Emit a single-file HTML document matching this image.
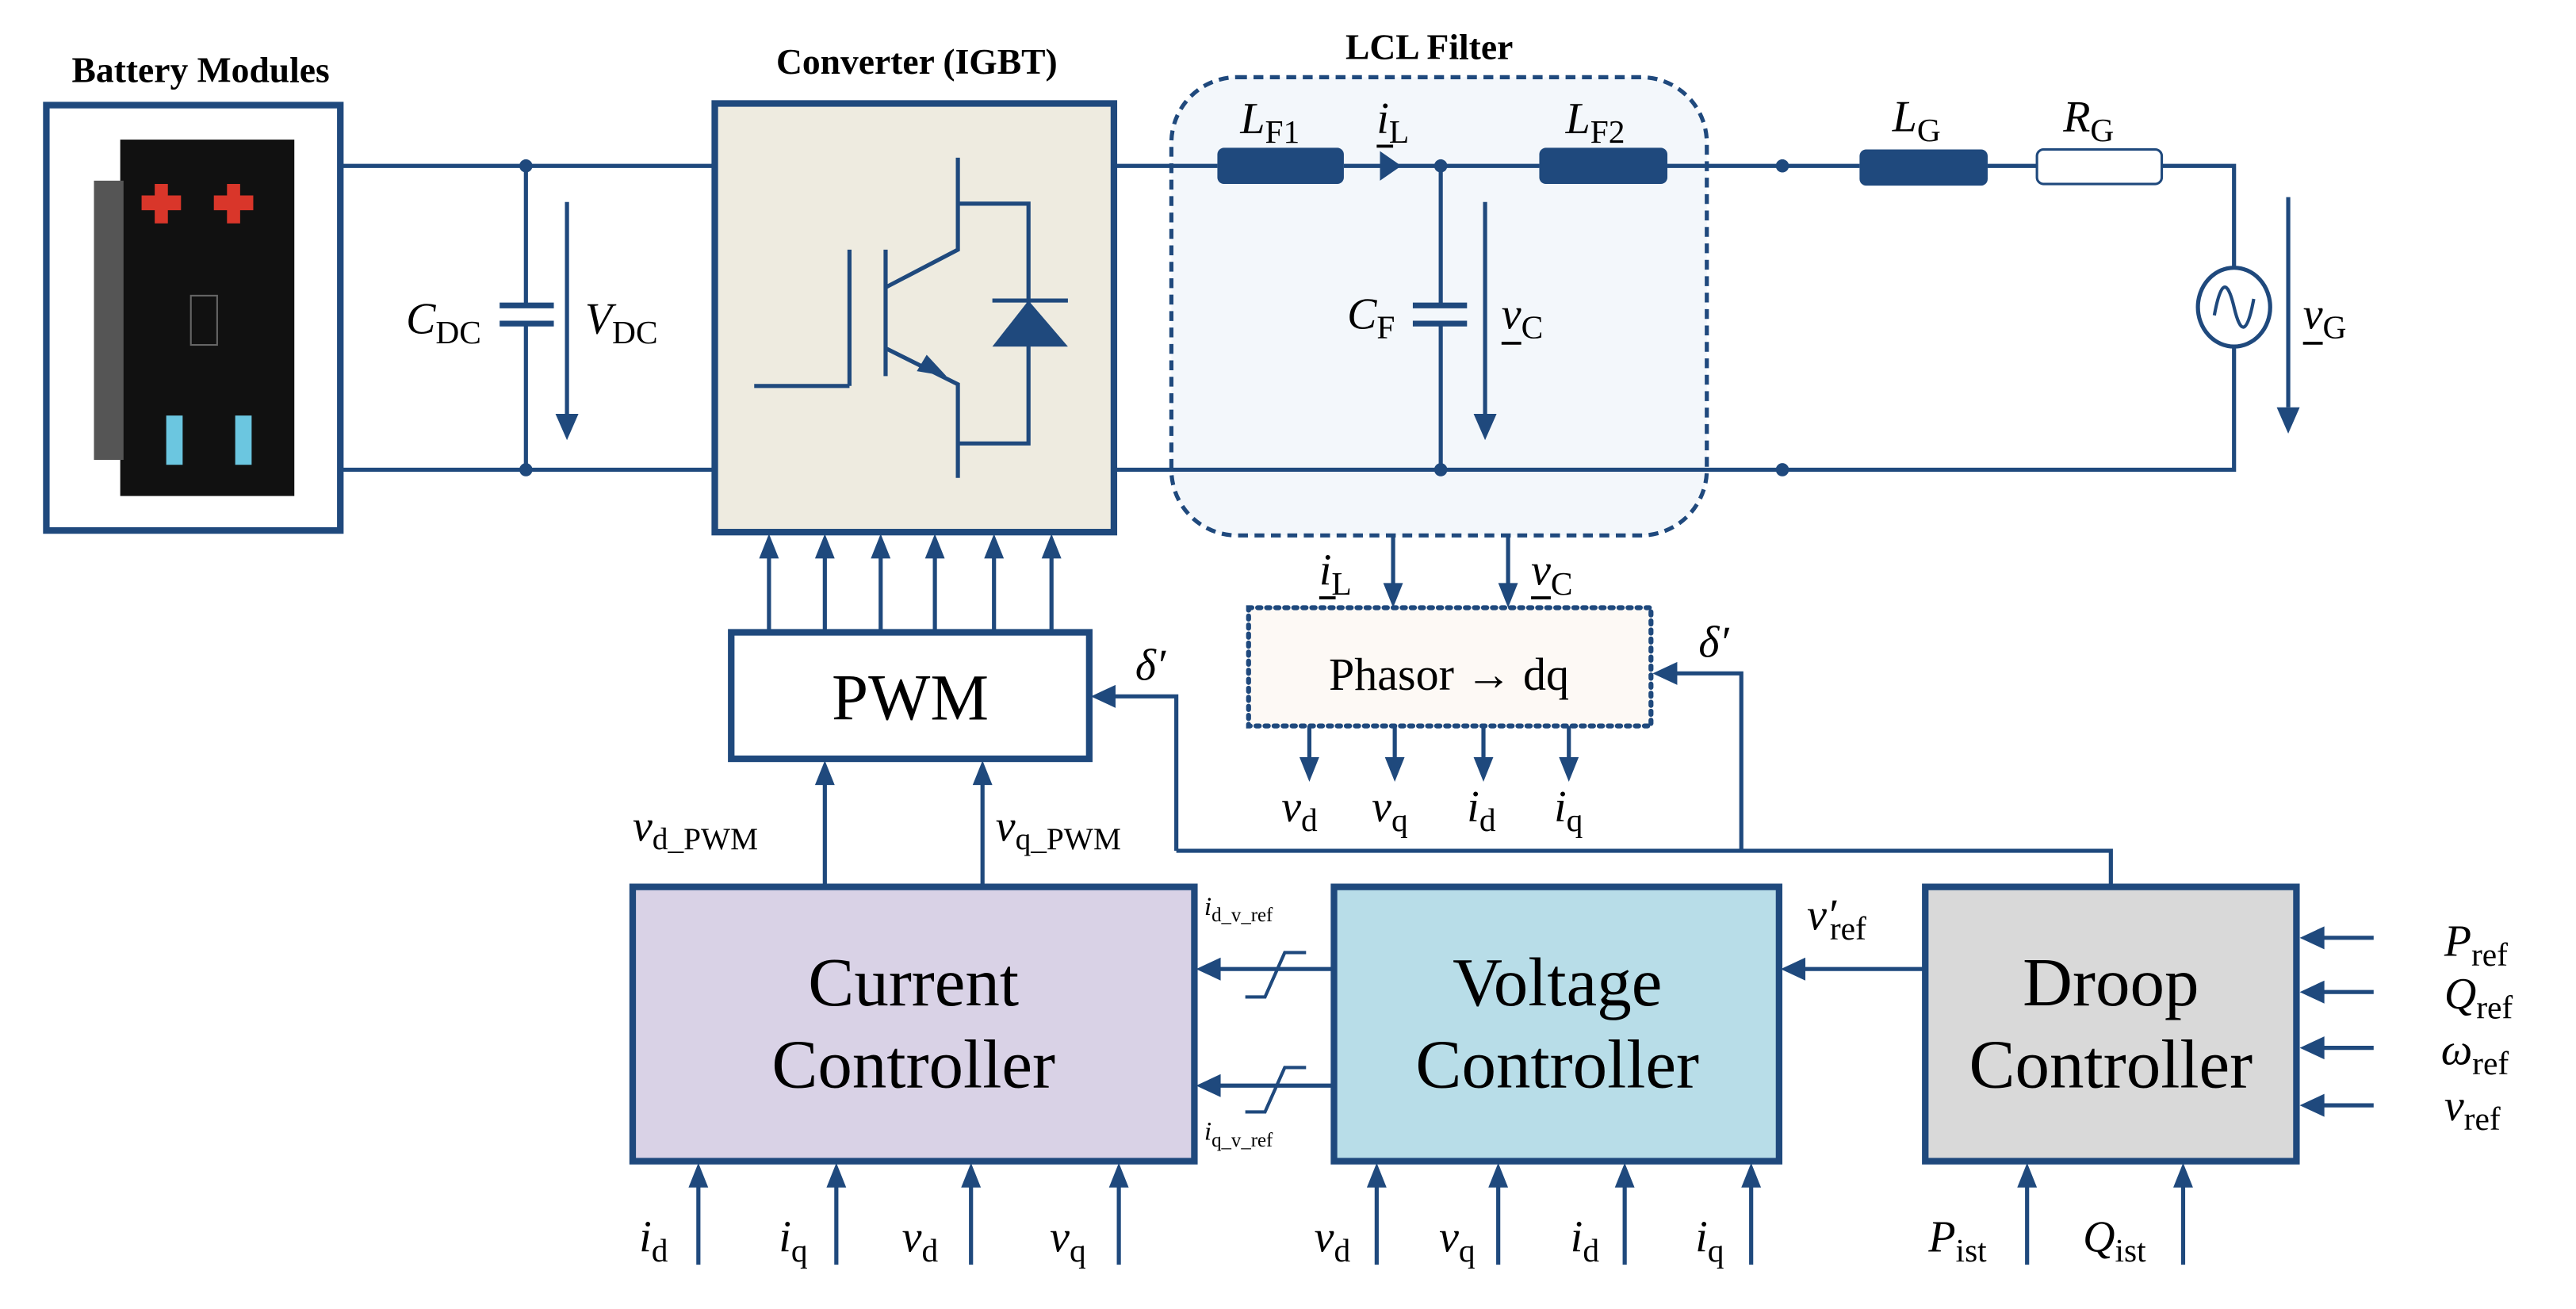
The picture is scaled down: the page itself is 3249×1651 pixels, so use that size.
<!DOCTYPE html>
<html><head><meta charset="utf-8"><style>
html,body{margin:0;padding:0;background:#fff;}
svg{display:block;}
text{font-family:"Liberation Serif",serif;fill:#000;}
.i{font-style:italic;}
</style></head><body>
<svg width="3249" height="1651" viewBox="0 0 1568 797" xmlns="http://www.w3.org/2000/svg">
<g stroke="#1f497d" fill="none" stroke-width="2.5">
<rect x="28" y="64" width="179" height="259" stroke-width="4" fill="#fff"/>
<path d="M207 101 H435 M207 286 H435"/>
<path d="M320 101 V186 M320 197 V286"/>
<path d="M304 186 H337 M304 197 H337" stroke-width="3.5"/>
<path d="M345 123 V253"/>
<rect x="435" y="63" width="243" height="261" stroke-width="4" fill="#eeebe0"/>
<path d="M583 96 V152 L539 175 M539 152 V229 M517 152 V235 M459 235 H517 M539 212 L583 234 V291 M583 124 H626 V270 H583 M604 183 H650"/>
</g>
<polygon points="604,211 650,211 626,183" fill="#1f497d"/>
<polygon points="564,216 576,229 558,226" fill="#1f497d"/>
<circle cx="320" cy="101" r="4" fill="#1f497d"/><circle cx="320" cy="286" r="4" fill="#1f497d"/>
<polygon points="338,252 352,252 345,268" fill="#1f497d"/>
<!-- battery image -->
<rect x="73" y="85" width="106" height="217" fill="#111"/>
<rect x="57" y="110" width="18" height="170" fill="#555"/>
<g fill="#d9362a"><rect x="94" y="112" width="8" height="24"/><rect x="86" y="119" width="24" height="9"/><rect x="138" y="112" width="8" height="24"/><rect x="130" y="119" width="24" height="9"/></g>
<g fill="#6bc6e0"><rect x="101" y="253" width="10" height="30"/><rect x="143" y="253" width="10" height="30"/></g>
<rect x="116" y="180" width="16" height="30" fill="none" stroke="#666" stroke-width="1"/>
<!-- LCL -->
<rect x="713" y="47" width="326" height="279" rx="40" fill="#f3f7fb" stroke="#1f497d" stroke-width="2.5" stroke-dasharray="6,4"/>
<g stroke="#1f497d" fill="none" stroke-width="2.5">
<path d="M678 101 H741 M818 101 H937 M1015 101 H1132 M1210 101 H1240 M1316 101 H1360 V164 M1360 210 V286 H678"/>
<path d="M877 101 V186 M877 197 V286"/>
<path d="M860 186 H893 M860 197 H893" stroke-width="3.5"/>
<path d="M904 123 V253 M1393 120 V248"/>
<ellipse cx="1360" cy="187" rx="22" ry="24"/>
<path d="M1348 192 C1352 170 1356 170 1360 187 C1364 204 1368 204 1372 182" stroke-width="2"/>
</g>
<rect x="741" y="90" width="77" height="22" rx="4" fill="#1f497d"/>
<rect x="937" y="90" width="78" height="22" rx="4" fill="#1f497d"/>
<rect x="1132" y="91" width="78" height="22" rx="4" fill="#1f497d"/>
<rect x="1240" y="91" width="76" height="21" rx="4" fill="#fff" stroke="#1f497d" stroke-width="1.5"/>
<polygon points="840,92 853,101 840,110" fill="#1f497d"/>
<g fill="#1f497d"><circle cx="877" cy="101" r="4"/><circle cx="877" cy="286" r="4"/><circle cx="1085" cy="101" r="4"/><circle cx="1085" cy="286" r="4"/></g>
<polygon points="897,252 911,252 904,268" fill="#1f497d"/>
<polygon points="1386,248 1400,248 1393,264" fill="#1f497d"/>
<!-- connectors -->
<g stroke="#1f497d" stroke-width="2.5" fill="none">
<path d="M468 385 V330 M502 385 V330 M536 385 V330 M569 385 V330 M605 385 V330 M640 385 V330"/>
<path d="M848 326 V362 M918 326 V362"/>
<path d="M797 442 V468 M849 442 V468 M903 442 V468 M955 442 V468"/>
<path d="M716 518 V424 H672"/>
<path d="M1060 518 V410 H1014"/>
<path d="M502 540 V470 M598 540 V470"/>
<path d="M812 590 H736 M812 661 H736 M1172 590 H1092"/>
<path d="M1445 571 H1408 M1445 604 H1408 M1445 638 H1408 M1445 673 H1408"/>
<path d="M425 770 V716 M509 770 V716 M591 770 V716 M681 770 V716 M838 770 V716 M912 770 V716 M989 770 V716 M1066 770 V716 M1234 770 V716 M1329 770 V716"/>
<path d="M716 518 H1285 V540"/>
</g>
<g fill="#1f497d">
<!-- up arrows to converter -->
<polygon points="462,340 474,340 468,325"/><polygon points="496,340 508,340 502,325"/><polygon points="530,340 542,340 536,325"/><polygon points="563,340 575,340 569,325"/><polygon points="599,340 611,340 605,325"/><polygon points="634,340 646,340 640,325"/>
<!-- down into phasor -->
<polygon points="842,355 854,355 848,370"/><polygon points="912,355 924,355 918,370"/>
<polygon points="791,461 803,461 797,476"/><polygon points="843,461 855,461 849,476"/><polygon points="897,461 909,461 903,476"/><polygon points="949,461 961,461 955,476"/>
<!-- left arrows -->
<polygon points="679,417 679,431 664,424"/>
<polygon points="1021,403 1021,417 1006,410"/>
<polygon points="743,583 743,597 728,590"/><polygon points="743,654 743,668 728,661"/>
<polygon points="1099,583 1099,597 1084,590"/>
<polygon points="1415,564 1415,578 1400,571"/><polygon points="1415,597 1415,611 1400,604"/><polygon points="1415,631 1415,645 1400,638"/><polygon points="1415,666 1415,680 1400,673"/>
<!-- up arrows to PWM -->
<polygon points="496,478 508,478 502,463"/><polygon points="592,478 604,478 598,463"/>
<!-- bottom inputs -->
<polygon points="419,723 431,723 425,708"/><polygon points="503,723 515,723 509,708"/><polygon points="585,723 597,723 591,708"/><polygon points="675,723 687,723 681,708"/>
<polygon points="832,723 844,723 838,708"/><polygon points="906,723 918,723 912,708"/><polygon points="983,723 995,723 989,708"/><polygon points="1060,723 1072,723 1066,708"/>
<polygon points="1228,723 1240,723 1234,708"/><polygon points="1323,723 1335,723 1329,708"/>
</g>
<g stroke="#1f497d" stroke-width="2" fill="none">
<path d="M758 607 H770 L782 580 H795"/><path d="M758 677 H770 L782 650 H795"/>
</g>
<!-- boxes -->
<rect x="760" y="370" width="245" height="72" fill="#fdf9f5" stroke="#1f497d" stroke-width="3" stroke-dasharray="2,3.5" stroke-linecap="round"/>
<rect x="445" y="385" width="218" height="77" fill="#fff" stroke="#1f497d" stroke-width="4"/>
<rect x="385" y="540" width="342" height="167" fill="#d9d2e6" stroke="#1f497d" stroke-width="4"/>
<rect x="812" y="540" width="271" height="167" fill="#b8dde8" stroke="#1f497d" stroke-width="4"/>
<rect x="1172" y="540" width="226" height="167" fill="#d9d9d9" stroke="#1f497d" stroke-width="4"/>
<!-- titles -->
<text x="122" y="50" font-size="22" font-weight="bold" text-anchor="middle">Battery Modules</text>
<text x="558" y="45" font-size="22" font-weight="bold" text-anchor="middle">Converter (IGBT)</text>
<text x="870" y="36" font-size="22" font-weight="bold" text-anchor="middle">LCL Filter</text>
<text x="554" y="438" font-size="40" text-anchor="middle">PWM</text>
<text x="882" y="420" font-size="28" text-anchor="middle">Phasor → dq</text>
<text x="556" y="612" font-size="42" text-anchor="middle">Current</text>
<text x="556" y="662" font-size="42" text-anchor="middle">Controller</text>
<text x="948" y="612" font-size="42" text-anchor="middle">Voltage</text>
<text x="948" y="662" font-size="42" text-anchor="middle">Controller</text>
<text x="1285" y="612" font-size="42" text-anchor="middle">Droop</text>
<text x="1285" y="662" font-size="42" text-anchor="middle">Controller</text>
<g font-size="27">
<text x="247" y="203"><tspan class="i">C</tspan><tspan font-size="20" dy="6">DC</tspan></text>
<text x="356" y="203"><tspan class="i">V</tspan><tspan font-size="20" dy="6">DC</tspan></text>
<text x="755" y="81"><tspan class="i">L</tspan><tspan font-size="20" dy="6">F1</tspan></text>
<text x="838" y="81"><tspan class="i">i</tspan><tspan font-size="20" dy="6">L</tspan></text>
<text x="953" y="81"><tspan class="i">L</tspan><tspan font-size="20" dy="6">F2</tspan></text>
<text x="1152" y="80"><tspan class="i">L</tspan><tspan font-size="20" dy="6">G</tspan></text>
<text x="1256" y="80"><tspan class="i">R</tspan><tspan font-size="20" dy="6">G</tspan></text>
<text x="820" y="200"><tspan class="i">C</tspan><tspan font-size="20" dy="6">F</tspan></text>
<text x="914" y="200"><tspan class="i">v</tspan><tspan font-size="20" dy="6">C</tspan></text>
<text x="1402" y="200"><tspan class="i">v</tspan><tspan font-size="20" dy="6">G</tspan></text>
<text x="803" y="356"><tspan class="i">i</tspan><tspan font-size="20" dy="6">L</tspan></text>
<text x="932" y="356"><tspan class="i">v</tspan><tspan font-size="20" dy="6">C</tspan></text>
<text x="691" y="414" class="i">δ′</text>
<text x="1034" y="400" class="i">δ′</text>
<text x="780" y="500"><tspan class="i">v</tspan><tspan font-size="20" dy="6">d</tspan></text>
<text x="835" y="500"><tspan class="i">v</tspan><tspan font-size="20" dy="6">q</tspan></text>
<text x="893" y="500"><tspan class="i">i</tspan><tspan font-size="20" dy="6">d</tspan></text>
<text x="946" y="500"><tspan class="i">i</tspan><tspan font-size="20" dy="6">q</tspan></text>
<text x="385" y="512"><tspan class="i">v</tspan><tspan font-size="19" dy="5">d_PWM</tspan></text>
<text x="606" y="512"><tspan class="i">v</tspan><tspan font-size="19" dy="5">q_PWM</tspan></text>
<text x="1100" y="566"><tspan class="i">v′</tspan><tspan font-size="20" dy="6" dx="-4">ref</tspan></text>
<text x="1488" y="582"><tspan class="i">P</tspan><tspan font-size="20" dy="6">ref</tspan></text>
<text x="1488" y="614"><tspan class="i">Q</tspan><tspan font-size="20" dy="6">ref</tspan></text>
<text x="1486" y="648"><tspan class="i">ω</tspan><tspan font-size="20" dy="6">ref</tspan></text>
<text x="1488" y="682"><tspan class="i">v</tspan><tspan font-size="20" dy="6">ref</tspan></text>
<text x="389" y="762"><tspan class="i">i</tspan><tspan font-size="20" dy="6">d</tspan></text>
<text x="474" y="762"><tspan class="i">i</tspan><tspan font-size="20" dy="6">q</tspan></text>
<text x="549" y="762"><tspan class="i">v</tspan><tspan font-size="20" dy="6">d</tspan></text>
<text x="639" y="762"><tspan class="i">v</tspan><tspan font-size="20" dy="6">q</tspan></text>
<text x="800" y="762"><tspan class="i">v</tspan><tspan font-size="20" dy="6">d</tspan></text>
<text x="876" y="762"><tspan class="i">v</tspan><tspan font-size="20" dy="6">q</tspan></text>
<text x="956" y="762"><tspan class="i">i</tspan><tspan font-size="20" dy="6">d</tspan></text>
<text x="1032" y="762"><tspan class="i">i</tspan><tspan font-size="20" dy="6">q</tspan></text>
<text x="1174" y="762"><tspan class="i">P</tspan><tspan font-size="20" dy="6">ist</tspan></text>
<text x="1268" y="762"><tspan class="i">Q</tspan><tspan font-size="20" dy="6">ist</tspan></text>
</g>
<text x="733" y="557" font-size="16"><tspan class="i">i</tspan><tspan font-size="12" dy="4">d_v_ref</tspan></text>
<text x="733" y="694" font-size="16"><tspan class="i">i</tspan><tspan font-size="12" dy="4">q_v_ref</tspan></text>
<g stroke="#000" stroke-width="1.8">
<path d="M838 89 H848 M914 209 H926 M1402 209 H1414 M803 364 H813 M932 364 H944"/>
</g>
</svg>
</body></html>
